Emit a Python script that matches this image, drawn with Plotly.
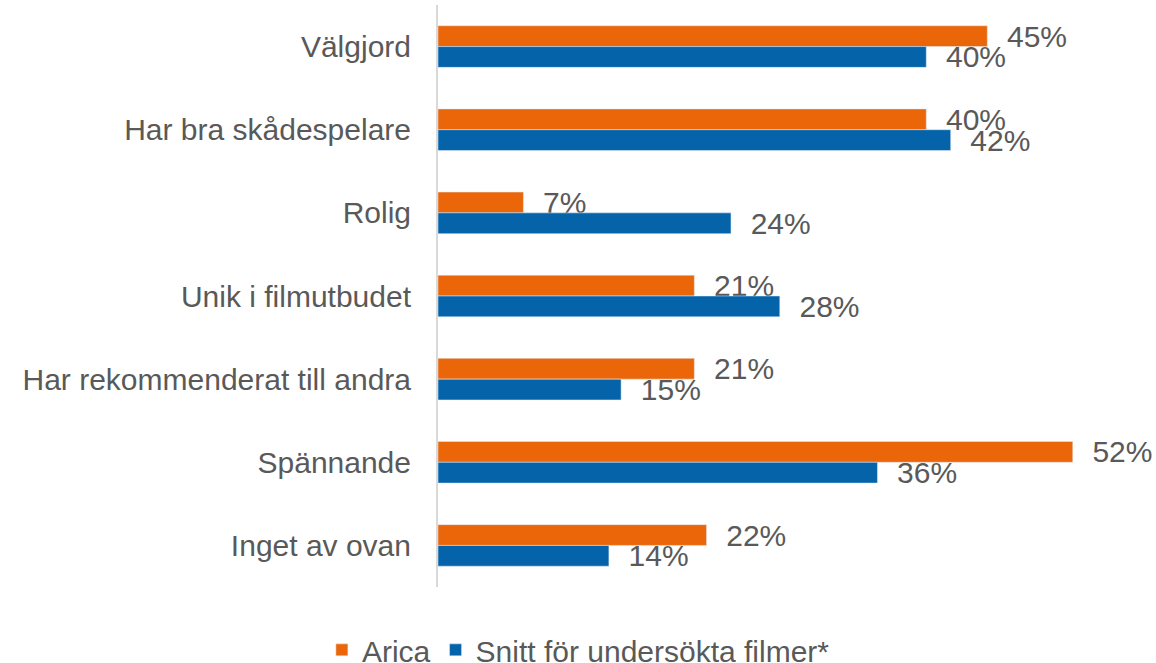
import plotly.graph_objects as go

categories = ['Välgjord', 'Har bra skådespelare', 'Rolig', 'Unik i filmutbudet',
              'Har rekommenderat till andra', 'Spännande', 'Inget av ovan']
arica = [45, 40, 7, 21, 21, 52, 22]
snitt = [40, 42, 24, 28, 15, 36, 14]

grey = '#595959'
font = 'Arial, Liberation Sans, sans-serif'

fig = go.Figure(data=[
    go.Bar(name='Arica', y=categories, x=arica, orientation='h',
           marker_color='#EB6608',
           texttemplate='\u00a0\u00a0%{x}%', textposition='outside',
           constraintext='none', cliponaxis=False,
           textfont=dict(size=30, color=grey, family=font)),
    go.Bar(name='Snitt för undersökta filmer*', y=categories, x=snitt, orientation='h',
           marker_color='#0563AA',
           texttemplate='\u00a0\u00a0%{x}%', textposition='outside',
           constraintext='none', cliponaxis=False,
           textfont=dict(size=30, color=grey, family=font)),
])

fig.update_layout(
    width=1156, height=663,
    margin=dict(l=438, r=10, t=5, b=76, autoexpand=False),
    plot_bgcolor='white', paper_bgcolor='white',
    barmode='group', bargap=0.5, bargroupgap=0,
    font=dict(family=font, size=30, color=grey),
    showlegend=True,
    legend=dict(orientation='h', x=-0.164, xanchor='left', y=-0.108, yanchor='middle',
                font=dict(size=30, color=grey), itemclick=False),
    xaxis=dict(range=[0, 58], visible=False),
    yaxis=dict(autorange='reversed', showline=True, linecolor='#d9d9d9', linewidth=2,
               showgrid=False, ticks='', ticklabelstandoff=19,
               tickfont=dict(size=30, color=grey)),
)

# page has a default 8px body margin, drop it so the figure fills the window
fig.write_html('out.html', config={'displayModeBar': False},
               post_script="document.body.style.margin='0';")
